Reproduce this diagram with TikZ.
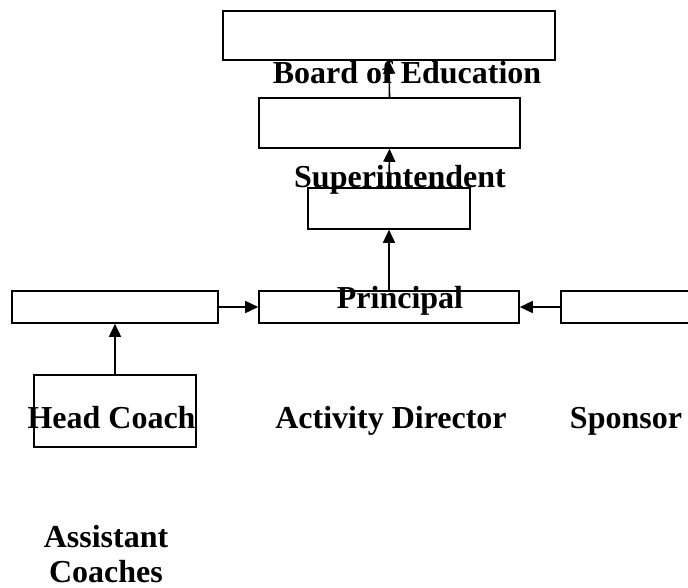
\documentclass[tikz,border=0pt]{standalone}
\usepackage{fontspec}
\setmainfont{Liberation Serif}
\usetikzlibrary{arrows.meta}

\begin{document}
\begin{tikzpicture}[x=1pt, y=-1pt,
    box/.style={draw, line width=1.6pt, inner sep=0pt},
    chartext/.style={anchor=base, inner sep=0pt, font=\fontsize{32}{35}\selectfont\bfseries},
    link/.style={-{Triangle[length=13pt, width=12pt]}, line width=1.6pt}]
    \useasboundingbox (0,0) rectangle (688,587);

    % boxes
    \node[box, minimum width=332pt, minimum height=49pt] (board) at (389,35.5) {};
    \node[box, minimum width=261pt, minimum height=50pt] (supt) at (389.5,123) {};
    \node[box, minimum width=162pt, minimum height=41pt] (prin) at (389,208.5) {};
    \node[box, minimum width=260pt, minimum height=32pt] (act) at (389,307) {};
    \node[box, minimum width=206pt, minimum height=32pt] (head) at (115,307) {};
    \node[box, minimum width=139pt, minimum height=32pt] (spon) at (630.5,307) {};
    \node[box, minimum width=162pt, minimum height=72pt] (asst) at (115,411) {};

    % arrows
    \draw[link] (supt.north) -- (board.south);
    \draw[link] (prin.north) -- (supt.south);
    \draw[link] (act.north) -- (prin.south);
    \draw[link] (head.east) -- (act.west);
    \draw[link] (spon.west) -- (act.east);
    \draw[link] (asst.north) -- (head.south);

    % texts
    \node[chartext] (boardtxt) at (407,83) {Board of Education};
    \node[chartext] (supttxt) at (400,187) {Superintendent};
    \node[chartext] (printxt) at (400,308) {Principal};
    \node[chartext] (headtxt) at (111.5,428) {Head Coach};
    \node[chartext] (acttxt) at (391,428) {Activity Director};
    \node[chartext] (spontxt) at (626,428) {Sponsor};
    \node[chartext, align=center] (assttxt) at (106,582) {Assistant\\Coaches};
\end{tikzpicture}
\end{document}
